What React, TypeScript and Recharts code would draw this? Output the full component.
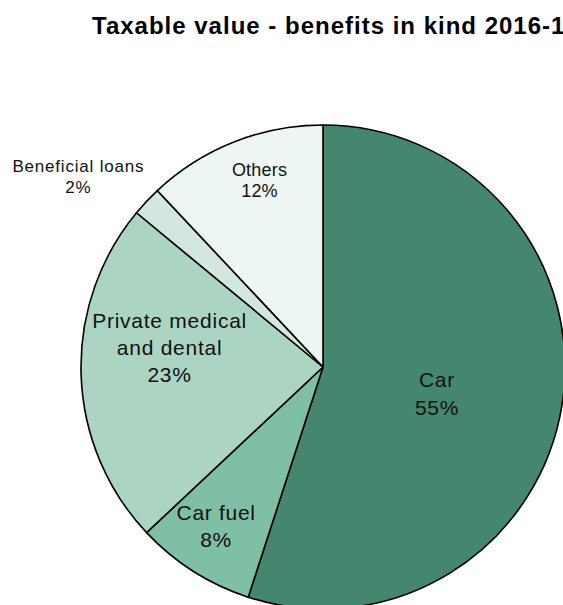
import React from "react";
import { PieChart, Pie, Cell } from "recharts";

const TITLE = "Taxable value - benefits in kind 2016-17";
const CATEGORIES = ["Car", "Car fuel", "Private medical\nand dental", "Beneficial loans", "Others"];
const SHARES = [55, 8, 23, 2, 12];
const COLORS = ["#44876E", "#7EBFA5", "#ACD4C3", "#D3E7DE", "#EDF6F2"];

// label placement: fraction of radius, angle shift from slice middle, font size, line height
const LABEL_STYLE = [
  { r: 0.484, shift: -4.3, size: 21, lh: 28, ls: 0.7 },
  { r: 0.792, shift: -1.5, size: 21, lh: 27, ls: 0.7 },
  { r: 0.639, shift: -9, size: 21, lh: 27, ls: 0.75 },
  { r: 1.281, shift: 5.3, size: 17, lh: 21.5, ls: 0.8 },
  { r: 0.816, shift: -2.85, size: 18, lh: 21, ls: 0.2 },
];

const data = CATEGORIES.map((name, i) => ({ name, value: SHARES[i] }));
const FONT = "'Liberation Sans', Arial, sans-serif";
const RAD = Math.PI / 180;

function renderLabel(props: any) {
  const { cx, cy, midAngle, outerRadius, index, name, value } = props;
  const st = LABEL_STYLE[index];
  const ang = midAngle + st.shift;
  const x = cx + outerRadius * st.r * Math.cos(-ang * RAD);
  const y = cy + outerRadius * st.r * Math.sin(-ang * RAD);
  const lines = [...String(name).split("\n"), `${value}%`];
  const n = lines.length;
  const cap = st.size * 0.716;
  return (
    <text
      key={`lbl-${index}`}
      textAnchor="middle"
      fill="#111"
      style={{ fontFamily: FONT, fontSize: st.size, letterSpacing: st.ls }}
    >
      {lines.map((ln, i) => (
        <tspan key={i} x={x} y={y + (i - (n - 1) / 2) * st.lh + cap / 2}>
          {ln}
        </tspan>
      ))}
    </text>
  );
}

export default function App() {
  return (
    <div style={{ position: "absolute", left: 0, top: 0, width: 563, height: 605, background: "#fff", overflow: "hidden" }}>
      <div
        style={{
          position: "absolute", left: 92, top: 14, whiteSpace: "nowrap",
          fontFamily: FONT, fontWeight: 700, fontSize: 24, lineHeight: "24px",
          letterSpacing: 1, color: "#000",
        }}
      >
        {TITLE}
      </div>
      <PieChart
        width={563}
        height={605}
        margin={{ top: 0, right: 0, bottom: 0, left: 0 }}
        style={{ position: "absolute", left: 0, top: 0 }}
      >
        <Pie
          data={data}
          dataKey="value"
          nameKey="name"
          cx={323}
          cy={367}
          outerRadius={242}
          startAngle={90}
          endAngle={-270}
          stroke="#000"
          strokeWidth={1.6}
          label={renderLabel}
          labelLine={false}
          isAnimationActive={false}
        >
          {data.map((d, i) => (
            <Cell key={d.name} fill={COLORS[i]} />
          ))}
        </Pie>
      </PieChart>
    </div>
  );
}
